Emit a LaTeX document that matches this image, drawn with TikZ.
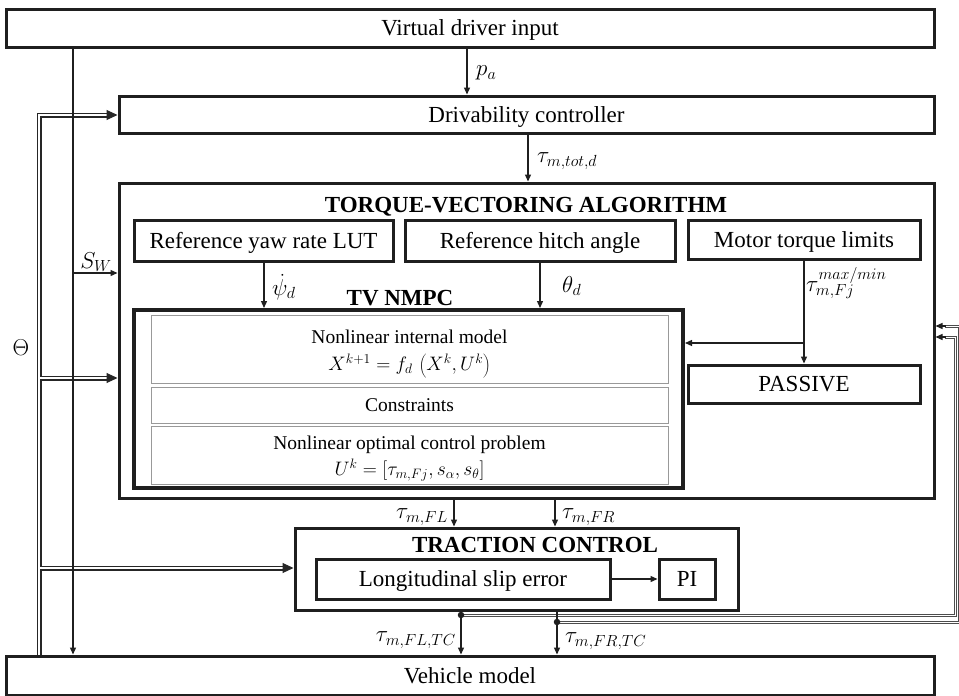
\RequirePackage{fix-cm}
\documentclass[tikz,border=0pt]{standalone}
\usepackage{fontspec}
\setmainfont{Liberation Serif}
\usetikzlibrary{arrows.meta,calc}
\begin{document}
\begin{tikzpicture}[x=1pt,y=-1pt]
\tikzset{
  every node/.style={font=\fontsize{23}{27}\selectfont, text=black, inner sep=0pt},
  box/.style={draw=black!88, line width=3pt, inner sep=0pt, text height=17pt, text depth=2pt},
  nbox/.style={draw=black!88, line width=4pt},
  subbox/.style={draw=black!40, line width=1pt},
  subtxt/.style={font=\fontsize{19.5}{26}\selectfont, anchor=base},
  arr/.style={draw=black!88, line width=1.3pt, -{Triangle[length=7pt,width=6pt]}},
  busout/.style={draw=black!85, line width=5pt},
  busin/.style={draw=white, line width=1.5pt},
  fbusout/.style={draw=black!70, line width=3pt},
  fbusin/.style={draw=white, line width=1pt},
  bigtip/.style={draw=black!85, line width=1pt, -{Triangle[length=11pt,width=10pt]}},
  jdot/.style={circle, fill=black!88, minimum size=6.5pt, inner sep=0pt},
  lab/.style={font=\fontsize{23}{27}\selectfont},
  ttl/.style={font=\fontsize{23}{27}\selectfont\bfseries, text height=17pt, text depth=2pt},
}
\useasboundingbox (0,0) rectangle (959,696);
\fill[white] (0,0) rectangle (959,696);

% ---------- boxes ----------
\node[box, minimum width=928pt, minimum height=38pt] (vdi) at (470,28) {Virtual driver input};
\node[box, minimum width=815pt, minimum height=37pt] (dc) at (526.5,114.5) {Drivability controller};
\node[box, minimum width=815pt, minimum height=315pt] (tv) at (526.5,340.5) {};
\node[ttl] (tvt) at (526,204.5) {TORQUE-VECTORING ALGORITHM};
\node[box, minimum width=259pt, minimum height=41pt] (ryr) at (263.5,240.5) {Reference yaw rate LUT};
\node[box, minimum width=270pt, minimum height=41pt] (rha) at (540,240.5) {Reference hitch angle};
\node[box, minimum width=232pt, minimum height=39pt] (mtl) at (804,239.5) {Motor torque limits};
\node[ttl] (nt) at (400,298) {TV NMPC};
\node[nbox, minimum width=549pt, minimum height=178pt] (nmpc) at (408.5,399) {};
\node[subbox, minimum width=517pt, minimum height=68pt] (s1) at (409.5,349) {};
\node[subbox, minimum width=517pt, minimum height=36pt] (s2) at (409.5,405) {};
\node[subbox, minimum width=517pt, minimum height=58pt] (s3) at (409.5,455) {};
\node[subtxt] (s1a) at (409.5,343.5) {Nonlinear internal model};
\node[subtxt] (s1b) at (409.5,370.5) {$X^{k+1} = f_d\,\left(X^k, U^k\right)$};
\node[subtxt] (s2a) at (409.5,411) {Constraints};
\node[subtxt] (s3a) at (409.5,449.5) {Nonlinear optimal control problem};
\node[subtxt] (s3b) at (409.5,475.5) {$U^k = [\tau_{m,Fj}, s_\alpha, s_\theta]$};
\node[box, minimum width=232pt, minimum height=38pt] (pas) at (804,384) {PASSIVE};
\node[box, minimum width=443pt, minimum height=82pt] (tc) at (516.5,569) {};
\node[ttl] (tct) at (535,545) {TRACTION CONTROL};
\node[box, minimum width=294pt, minimum height=40pt] (lse) at (463,579) {Longitudinal slip error};
\node[box, minimum width=56pt, minimum height=40pt] (pi) at (687,579) {PI};
\node[box, minimum width=928pt, minimum height=39pt] (vm) at (470,675.5) {Vehicle model};

% ---------- coordinates ----------
\coordinate (j1) at (461,615);
\coordinate (j2) at (557,622);
\coordinate (f1) at (955.5,337);
\coordinate (f2) at (959.5,326);
\coordinate (e1) at (f1 -| tv.east);
\coordinate (e2) at (f2 -| tv.east);
\coordinate (tb) at (39,0 |- vm.north);
\coordinate (ttop) at (39,115);
\coordinate (t1) at (39,378);
\coordinate (t2) at (39,568);
\coordinate (d0) at (ttop -| dc.west);
\coordinate (d1) at (t1 -| tv.west);
\coordinate (d2) at (t2 -| tc.west);
\coordinate (br) at (804,343);
\coordinate (sw1) at (73,273);

% ---------- Theta bus ----------
\draw[busout] (tb) -- (ttop) -- ([xshift=-10pt]d0);
\draw[busout] (t1) -- ([xshift=-10pt]d1);
\draw[busout] (t2) -- ([xshift=-10pt]d2);
\draw[busin] (tb) -- (ttop) -- ([xshift=-10pt]d0);
\draw[busin] (t1) -- ([xshift=-10pt]d1);
\draw[busin] (t2) -- ([xshift=-10pt]d2);
\draw[bigtip] ([xshift=-11pt]d0) -- (d0);
\draw[bigtip] ([xshift=-11pt]d1) -- (d1);
\draw[bigtip] ([xshift=-11pt]d2) -- (d2);
\node[lab] (theta) at (21,348) {$\Theta$};

% ---------- S_W ----------
\draw[arr] (73,0 |- vdi.south) -- (73,0 |- vm.north);
\draw[arr] (sw1) -- (sw1 -| tv.west);
\node[lab] (swl) at (96,262) {$S_W$};

% ---------- feedback buses ----------
\draw[fbusout] (j1) -- (j1 -| f1) -- (f1) -- ([xshift=9pt]e1);
\draw[fbusout] (j2) -- (j2 -| f2) -- (f2) -- ([xshift=9pt]e2);
\draw[fbusin] (j1) -- (j1 -| f1) -- (f1) -- ([xshift=9pt]e1);
\draw[fbusin] (j2) -- (j2 -| f2) -- (f2) -- ([xshift=9pt]e2);
\draw[arr] ([xshift=10pt]e1) -- (e1);
\draw[arr] ([xshift=10pt]e2) -- (e2);

% ---------- signal arrows ----------
\draw[arr] (467,0 |- vdi.south) -- (467,0 |- dc.north);
\node[lab, anchor=west] (pal) at (476,73) {$p_a$};
\draw[arr] (528,0 |- dc.south) -- (528,0 |- tv.north);
\node[lab, anchor=west] (ttd) at (537,161) {$\tau_{m,tot,d}$};
\draw[arr] (264,0 |- ryr.south) -- (264,0 |- nmpc.north);
\node[lab, anchor=west] (psil) at (272,287) {$\dot\psi_d$};
\draw[arr] (540,0 |- rha.south) -- (540,0 |- nmpc.north);
\node[lab, anchor=west] (thl) at (562,286) {$\theta_d$};
\draw[arr] (804,0 |- mtl.south) -- (pas.north);
\draw[arr] (br) -- (br -| nmpc.east);
\node[lab, anchor=west] (lim) at (806,283) {$\tau_{m,Fj}^{max/min}$};
\draw[arr] (454,0 |- tv.south) -- (454,0 |- tc.north);
\node[lab, anchor=east] (fll) at (448,517) {$\tau_{m,FL}$};
\draw[arr] (555,0 |- tv.south) -- (555,0 |- tc.north);
\node[lab, anchor=west] (frl) at (562,517) {$\tau_{m,FR}$};
\draw[arr] (lse.east) -- (pi.west);
\draw[arr] (461,0 |- tc.south) -- (461,0 |- vm.north);
\draw[arr] (557,0 |- tc.south) -- (557,0 |- vm.north);
\node[jdot] (dot1) at (j1) {};
\node[jdot] (dot2) at (j2) {};
\node[lab, anchor=east] (fltc) at (456,640) {$\tau_{m,FL,TC}$};
\node[lab, anchor=west] (frtc) at (565,641) {$\tau_{m,FR,TC}$};
\end{tikzpicture}
\end{document}
